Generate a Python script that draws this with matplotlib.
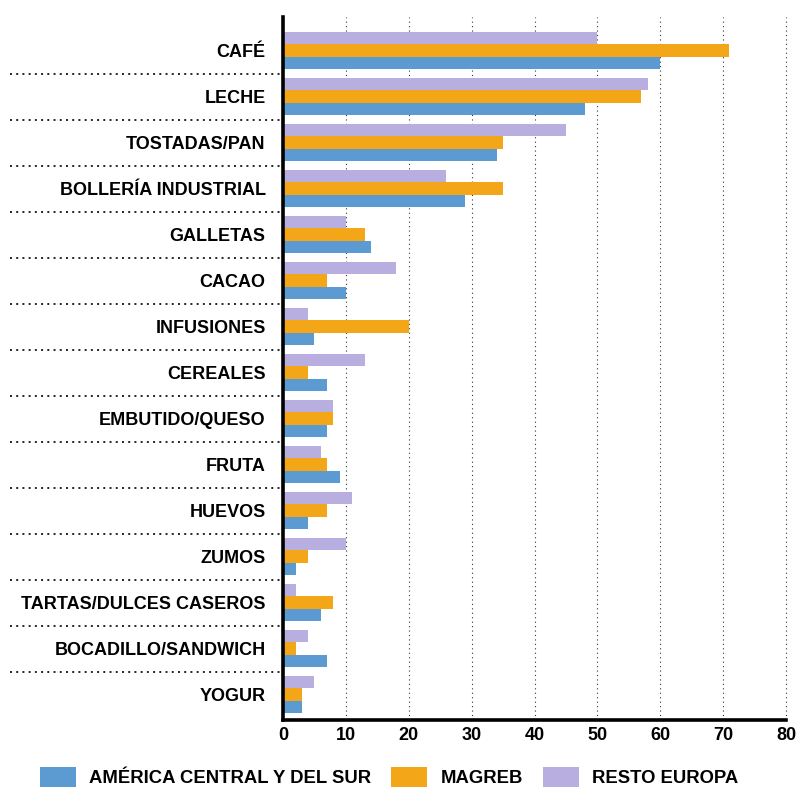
import matplotlib
matplotlib.use("Agg")
import matplotlib.pyplot as plt
import matplotlib.transforms as mtransforms
from matplotlib.patches import Patch
import numpy as np

categories = ["CAFÉ", "LECHE", "TOSTADAS/PAN", "BOLLERÍA INDUSTRIAL", "GALLETAS",
              "CACAO", "INFUSIONES", "CEREALES", "EMBUTIDO/QUESO", "FRUTA",
              "HUEVOS", "ZUMOS", "TARTAS/DULCES CASEROS", "BOCADILLO/SANDWICH", "YOGUR"]
america = [60, 48, 34, 29, 14, 10, 5, 7, 7, 9, 4, 2, 6, 7, 3]
magreb = [71, 57, 35, 35, 13, 7, 20, 4, 8, 7, 7, 4, 8, 2, 3]
resto = [50, 58, 45, 26, 10, 18, 4, 13, 8, 6, 11, 10, 2, 4, 5]
series_names = ["AMÉRICA CENTRAL Y DEL SUR", "MAGREB", "RESTO EUROPA"]
xticks = [0, 10, 20, 30, 40, 50, 60, 70, 80]

c_blue = "#5b9bd2"
c_orange = "#f2a618"
c_lav = "#b9aee0"

plt.rcParams['font.family'] = ['Liberation Sans', 'DejaVu Sans']

W, H = 798, 790
fig = plt.figure(figsize=(W / 100, H / 100), dpi=100)
ax = fig.add_axes([283 / W, 1 - 720 / H, (786 - 283) / W, (720 - 17) / H])

y = np.arange(len(categories))
bh = 0.27
ax.barh(y - bh, resto, height=bh, color=c_lav, zorder=3)
ax.barh(y, magreb, height=bh, color=c_orange, zorder=3)
ax.barh(y + bh, america, height=bh, color=c_blue, zorder=3)

ax.set_xlim(0, 80)
ax.set_ylim(14.55, -0.73)

ax.set_xticks(xticks)
ax.set_xticklabels([str(t) for t in xticks], fontsize=13, fontweight='bold')
ax.set_yticks(y)
ax.set_yticklabels(categories, fontsize=13, fontweight='bold')
ax.tick_params(axis='both', length=0)
ax.tick_params(axis='y', pad=12.5)
ax.tick_params(axis='x', pad=5)

for s in ['top', 'right']:
    ax.spines[s].set_visible(False)
ax.spines['left'].set_linewidth(2.6)
ax.spines['bottom'].set_linewidth(2.6)
ax.spines['left'].set_zorder(5)

# vertical dotted grid
for t in xticks[1:]:
    ax.axvline(t, color='#333333', linestyle=(0, (1, 3)), linewidth=0.8, zorder=1,
               clip_on=False)

# separator dotted lines between categories (extend left of axes)
trans = mtransforms.blended_transform_factory(fig.transFigure, ax.transData)
for k in range(len(categories) - 1):
    ax.plot([10 / W, 281 / W], [k + 0.5, k + 0.5], transform=trans, clip_on=False,
            color='#222222', linestyle=(0, (1, 2.2)), linewidth=1.4, zorder=2)

handles = [Patch(facecolor=c_blue, edgecolor='none'),
           Patch(facecolor=c_orange, edgecolor='none'),
           Patch(facecolor=c_lav, edgecolor='none')]
fig.legend(handles, series_names, loc='center left', bbox_to_anchor=(40 / W, 1 - 777 / H),
           ncol=3, frameon=False, borderpad=0, borderaxespad=0,
           prop={'size': 13.3, 'weight': 'bold'},
           handlelength=1.95, handleheight=1.35, handletextpad=0.7, columnspacing=1.1)

fig.savefig("out.png", dpi=100)
